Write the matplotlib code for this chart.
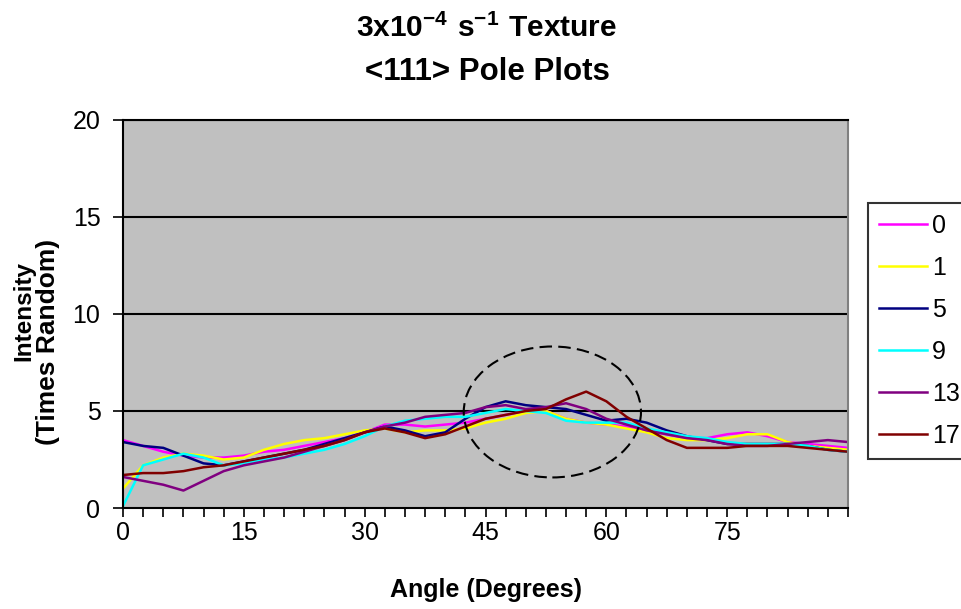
import numpy as np
import matplotlib
matplotlib.use("Agg")
import matplotlib.pyplot as plt
from matplotlib.patches import Ellipse

plt.rcParams['font.family'] = ['Liberation Sans', 'DejaVu Sans']
plt.rcParams['mathtext.fontset'] = 'custom'
plt.rcParams['mathtext.rm'] = 'Liberation Sans:bold'
plt.rcParams['mathtext.bf'] = 'Liberation Sans:bold'

angles = [0, 2.5, 5, 7.5, 10, 12.5, 15, 17.5, 20, 22.5, 25, 27.5, 30, 32.5, 35, 37.5,
          40, 42.5, 45, 47.5, 50, 52.5, 55, 57.5, 60, 62.5, 65, 67.5, 70, 72.5, 75,
          77.5, 80, 82.5, 85, 87.5, 90]

s0 = [3.5, 3.2, 2.9, 2.7, 2.6, 2.6, 2.7, 2.9, 3.0, 3.2, 3.4, 3.6, 3.9, 4.3, 4.3, 4.2,
      4.3, 4.4, 4.6, 4.8, 5.0, 5.0, 4.6, 4.4, 4.3, 4.2, 4.0, 3.8, 3.6, 3.6, 3.8,
      3.9, 3.7, 3.4, 3.3, 3.2, 3.1]
s1 = [1.0, 2.2, 2.6, 2.8, 2.7, 2.5, 2.6, 3.0, 3.3, 3.5, 3.6, 3.8, 4.0, 4.1, 3.9, 4.0,
      4.0, 4.1, 4.4, 4.6, 4.9, 5.0, 4.6, 4.4, 4.3, 4.1, 3.9, 3.6, 3.5, 3.5, 3.6,
      3.8, 3.8, 3.4, 3.2, 3.1, 3.0]
s5 = [3.4, 3.2, 3.1, 2.7, 2.3, 2.2, 2.4, 2.6, 2.8, 3.0, 3.3, 3.6, 3.9, 4.2, 4.0, 3.7,
      3.9, 4.6, 5.2, 5.5, 5.3, 5.2, 5.1, 4.8, 4.5, 4.6, 4.4, 4.0, 3.7, 3.5, 3.3,
      3.3, 3.3, 3.3, 3.2, 3.0, 2.9]
s9 = [0.1, 2.2, 2.5, 2.8, 2.6, 2.2, 2.3, 2.5, 2.6, 2.8, 3.0, 3.3, 3.7, 4.2, 4.5, 4.6,
      4.7, 4.7, 4.9, 5.1, 5.0, 4.9, 4.5, 4.4, 4.4, 4.4, 4.1, 3.9, 3.7, 3.6, 3.4,
      3.3, 3.3, 3.3, 3.2, 3.0, 2.9]
s13 = [1.6, 1.4, 1.2, 0.9, 1.4, 1.9, 2.2, 2.4, 2.6, 2.9, 3.2, 3.5, 3.9, 4.2, 4.4, 4.7,
       4.8, 4.9, 5.2, 5.3, 5.1, 5.2, 5.4, 5.1, 4.6, 4.3, 4.0, 3.8, 3.6, 3.5, 3.3,
       3.2, 3.2, 3.3, 3.4, 3.5, 3.4]
s17 = [1.7, 1.8, 1.8, 1.9, 2.1, 2.2, 2.4, 2.6, 2.8, 3.0, 3.2, 3.5, 3.9, 4.1, 3.9, 3.6,
       3.8, 4.2, 4.6, 4.8, 5.0, 5.1, 5.6, 6.0, 5.5, 4.7, 4.1, 3.5, 3.1, 3.1, 3.1,
       3.2, 3.2, 3.2, 3.1, 3.0, 2.9]

series_labels = ['0', '1', '5', '9', '13', '17']
series = [s0, s1, s5, s9, s13, s17]
colors = ['#FF00FF', '#FFFF00', '#000080', '#00FFFF', '#800080', '#800000']

x_ticks = [0, 15, 30, 45, 60, 75]
y_ticks = [0, 5, 10, 15, 20]

fig = plt.figure(figsize=(9.62, 6.09), dpi=100)
ax = fig.add_axes([123/962, 1-508/609, (848-123)/962, (508-120)/609])
ax.set_facecolor('#C0C0C0')

for lab, ys, c in zip(series_labels, series, colors):
    ax.plot(angles, ys, color=c, lw=1.8, label=lab)

ax.set_xlim(0, 90)
ax.set_ylim(0, 20)
ax.set_yticks(y_ticks)
ax.set_xticks(x_ticks)
ax.set_xticks(np.arange(0, 90.1, 2.5), minor=True)
for yv in [5, 10, 15, 20]:
    ax.axhline(yv, color='black', lw=1.5, zorder=1)

ax.tick_params(axis='both', which='both', direction='out', color='black', width=1.2,
               labelsize=18)
ax.tick_params(axis='y', length=7.2, pad=9)
ax.tick_params(axis='x', which='major', length=6.5, pad=3)
ax.tick_params(axis='x', which='minor', length=6.5)

for side in ['left', 'bottom', 'top']:
    ax.spines[side].set_color('black')
    ax.spines[side].set_linewidth(1.5)
ax.spines['right'].set_color('#808080')
ax.spines['right'].set_linewidth(1.5)

ell = Ellipse((53.3, 4.95), 22.0, 6.75, fill=False, edgecolor='black', lw=1.5,
              linestyle=(0, (6, 3)), zorder=5)
ax.add_patch(ell)

ax.set_xlabel('Angle (Degrees)', fontsize=18, fontweight='bold')
ax.xaxis.set_label_coords(0.5, -0.18)

fig.text(24/962, 1-311/609, 'Intensity', fontsize=17.5, fontweight='bold',
         rotation=90, ha='center', va='center')
fig.text(48/962, 1-342/609, '(Times Random)', fontsize=19, fontweight='bold',
         rotation=90, ha='center', va='center')

fig.text(487/962, 1-37/609, r'$\mathbf{3x10^{-4}\ s^{-1}\ Texture}$', fontsize=21.5,
         ha='center', va='baseline')
fig.text(487/962, 1-80/609, '<111> Pole Plots', fontsize=22.5, fontweight='bold',
         ha='center', va='baseline')

leg = fig.legend(loc='upper left', bbox_to_anchor=(868/962, 1-203/609), fontsize=18,
                 frameon=True, fancybox=False, edgecolor='black', handlelength=1.9,
                 handletextpad=0.2, labelspacing=0.72, borderpad=0.45, borderaxespad=0)
leg.get_frame().set_linewidth(1.5)
for h in leg.get_lines():
    h.set_linewidth(1.8)

fig.savefig('out.png', dpi=100)
